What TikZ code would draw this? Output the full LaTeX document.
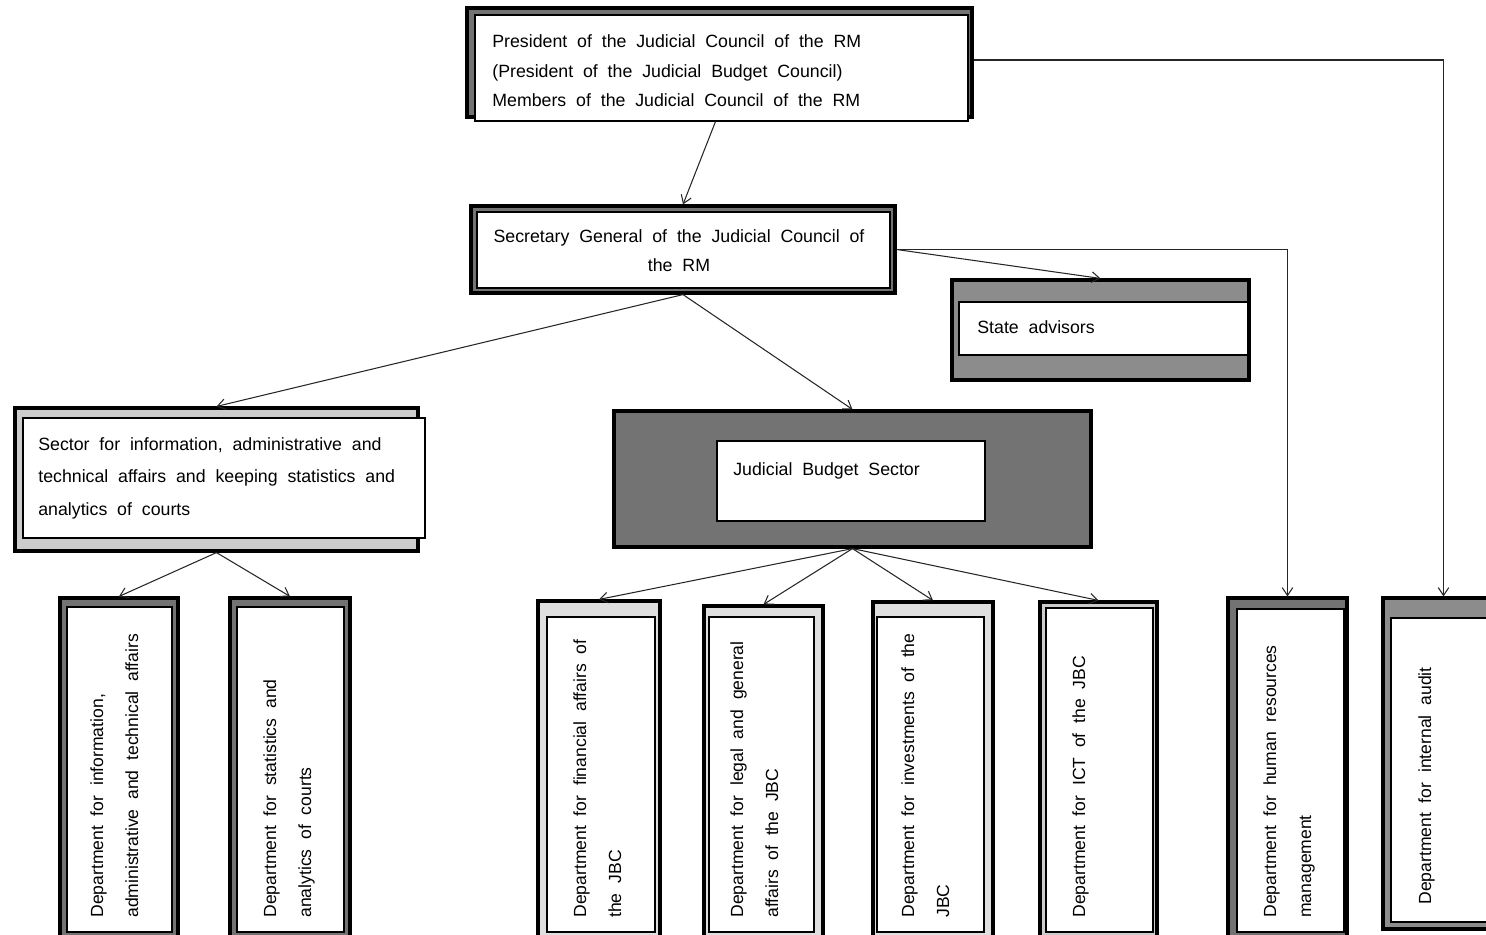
\documentclass[tikz,border=0pt]{standalone}
\usepackage{fontspec}
\setmainfont{Liberation Sans}[WordSpace=2.0]
\usetikzlibrary{arrows.meta,fit}
\begin{document}
\begin{tikzpicture}[x=0.02cm,y=-0.02cm,
  framebox/.style={draw=black,line width=1.8pt,fill=#1,inner sep=0pt,rectangle},
  framebox/.default=gray!35,
  whitebox/.style={draw=black,line width=0.6pt,fill=white,inner sep=0pt,rectangle},
  htext/.style={inner sep=0pt,anchor=north west,align=left,font=\fontsize{10.1}{#1}\selectfont},
  vtext/.style={inner sep=0pt,anchor=north west,align=left,rotate=90,font=\fontsize{10}{20}\selectfont},
  arr/.style={draw=black!85,line width=0.6pt,-{Straight Barb[length=4.5pt,width=6pt]}}
]
\useasboundingbox (0,0) rectangle (1486,934);
\clip (0,0) rectangle (1486,934);

% top box
\node[framebox=black!55, fit={(467,8)(972,117)}] (top) {};
\node[whitebox, fit={(475,15)(968,121)}] (topi) {};
\node[htext=17pt] (toptxt) at (492,34) {President of the Judicial Council of the RM\\(President of the Judicial Budget Council)\\Members of the Judicial Council of the RM};

% secretary general
\node[framebox=black!55, fit={(471,206)(895,293)}] (sec) {};
\node[whitebox, fit={(477,212)(890,288)}] (seci) {};
\node[htext=16.5pt, anchor=north, align=center] (sectxt) at (679,229) {Secretary General of the Judicial Council of\\the RM};

% state advisors
\node[framebox=black!45, fit={(952,280)(1249,380)}] (sa) {};
\node[whitebox, fit={(959,302)(1248,355)}] (sai) {};
\node[htext=12pt] (satxt) at (977,320) {State advisors};

% sector
\node[framebox=gray!40, fit={(15,408)(418,551)}] (sector) {};
\node[whitebox, fit={(23,418)(425,538)}] (sectori) {};
\node[htext=18.5pt] (sectortxt) at (38,437) {Sector for information, administrative and\\technical affairs and keeping statistics and\\analytics of courts};

% judicial budget sector
\node[framebox=black!55, fit={(614,411)(1091,547)}] (jbs) {};
\node[whitebox, fit={(717,441)(985,521)}] (jbsi) {};
\node[htext=12pt] (jbstxt) at (733,462) {Judicial Budget Sector};

% departments
\node[framebox=black!55, fit={(60,598)(178,940)}] (d1) {};
\node[whitebox, fit={(67,607)(172,932)}] (d1i) {};
\node[vtext] (d1t) at (90,918) {Department for information,\\administrative and technical affairs};

\node[framebox=black!55, fit={(230,598)(350,940)}] (d2) {};
\node[whitebox, fit={(237,607)(344,932)}] (d2i) {};
\node[vtext] (d2t) at (263,918) {Department for statistics and\\analytics of courts};

\node[framebox=gray!25, fit={(538,601)(660,940)}] (d3) {};
\node[whitebox, fit={(547,617)(655,932)}] (d3i) {};
\node[vtext] (d3t) at (573,918) {Department for financial affairs of\\the JBC};

\node[framebox=gray!25, fit={(704,606)(823,940)}] (d4) {};
\node[whitebox, fit={(709,617)(814,932)}] (d4i) {};
\node[vtext] (d4t) at (730,918) {Department for legal and general\\affairs of the JBC};

\node[framebox=gray!25, fit={(873,602)(993,940)}] (d5) {};
\node[whitebox, fit={(877,617)(984,932)}] (d5i) {};
\node[vtext] (d5t) at (901,918) {Department for investments of the\\JBC};

\node[framebox=gray!40, fit={(1040,602)(1157,940)}] (d6) {};
\node[whitebox, fit={(1046,608)(1153,932)}] (d6i) {};
\node[vtext] (d6t) at (1072,918) {Department for ICT of the JBC};

\node[framebox=black!55, fit={(1228,598)(1347,940)}] (d7) {};
\node[whitebox, fit={(1237,609)(1344,932)}] (d7i) {};
\node[vtext] (d7t) at (1263,918) {Department for human resources\\management};

\node[framebox=black!45, fit={(1383,598)(1504,929)}] (d8) {};
\node[whitebox, fit={(1391,618)(1500,922)}] (d8i) {};
\node[vtext] (d8t) at (1418,905) {Department for internal audit};

% connectors
\draw[arr] ([xshift=-0.12cm]topi.south) -- (sec.north);
\draw[arr] ([yshift=0.05cm]top.east) -| (d8.north);
\draw[arr] (sec.east) -| (d7.north);
\draw[arr] (sec.east) -- (sa.north);
\draw[arr] (sec.south) -- (sector.north);
\draw[arr] (sec.south) -- (jbs.north);
\draw[arr] (sector.south) -- (d1.north);
\draw[arr] (sector.south) -- (d2.north);
\draw[arr] (jbs.south) -- (d3.north);
\draw[arr] (jbs.south) -- (d4.north);
\draw[arr] (jbs.south) -- (d5.north);
\draw[arr] (jbs.south) -- (d6.north);
\end{tikzpicture}
\end{document}
